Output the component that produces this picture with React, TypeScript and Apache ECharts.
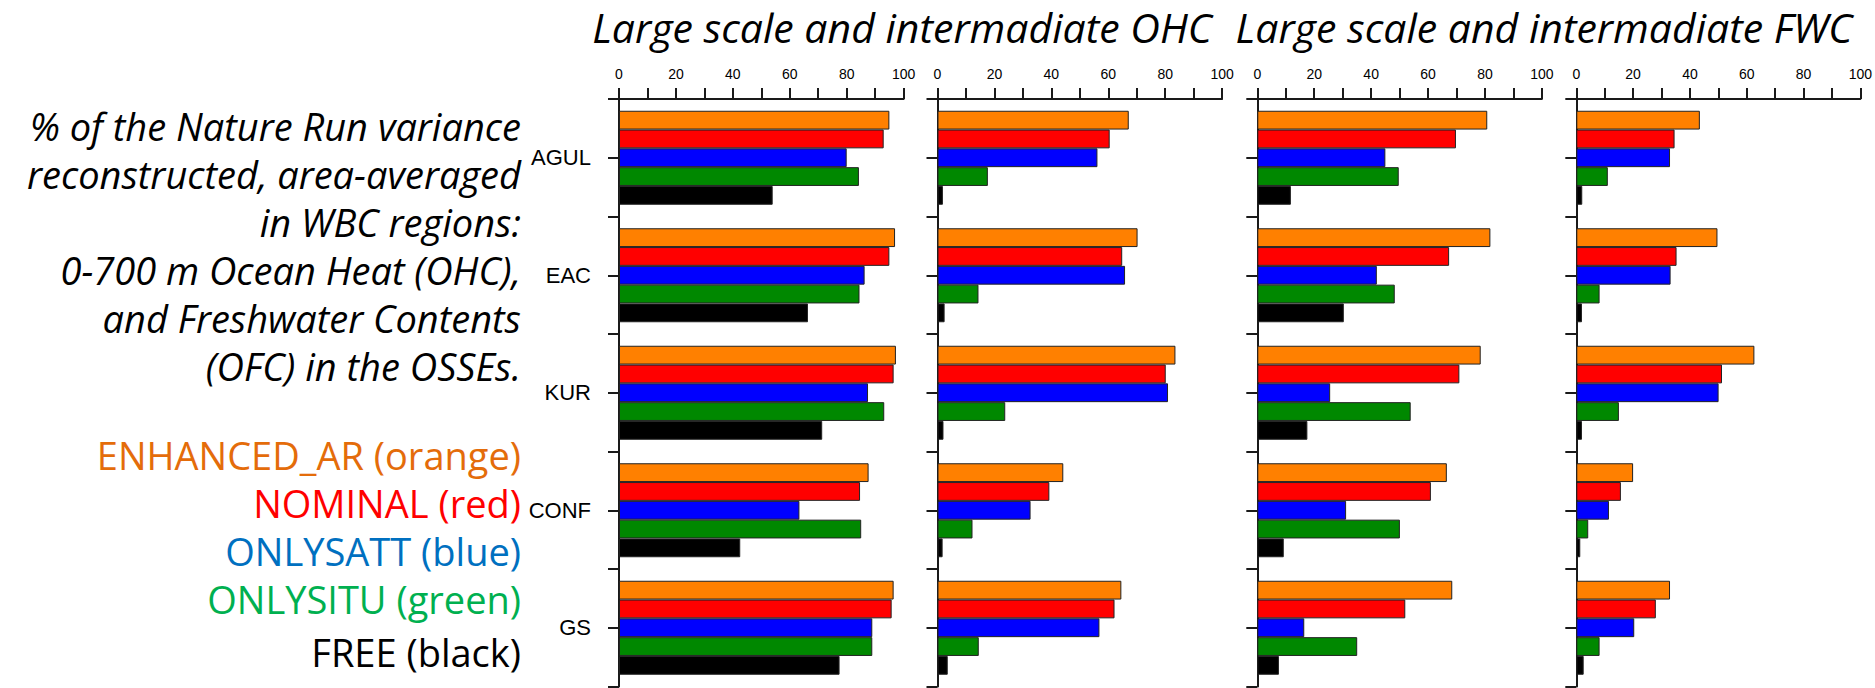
import React, { useEffect, useRef } from 'react';
import * as echarts from 'echarts';

// Categories (WBC regions), top to bottom
const regions = ['AGUL', 'EAC', 'KUR', 'CONF', 'GS'];
// Experiments, drawn top to bottom within each region
const runNames = ['ENHANCED_AR', 'NOMINAL', 'ONLYSATT', 'ONLYSITU', 'FREE'];
const runColors = ['#ff8000', '#ff0000', '#0000ff', '#008800', '#000000'];
const xTickValues = [0, 10, 20, 30, 40, 50, 60, 70, 80, 90, 100];

// Panel 1: large scale OHC
const ohcLargeEnhanced = [95, 97, 97.3, 87.7, 96.5];
const ohcLargeNominal = [93, 95, 96.5, 84.7, 95.8];
const ohcLargeOnlysatt = [80, 86.3, 87.5, 63.4, 89];
const ohcLargeOnlysitu = [84.3, 84.5, 93.2, 85.1, 89];
const ohcLargeFree = [54, 66.4, 71.4, 42.6, 77.5];

// Panel 2: intermediate OHC
const ohcInterEnhanced = [67.2, 70.3, 83.6, 44.2, 64.6];
const ohcInterNominal = [60.5, 64.9, 80.2, 39.3, 62.2];
const ohcInterOnlysatt = [56.2, 65.9, 81, 32.7, 56.9];
const ohcInterOnlysitu = [17.7, 14.4, 23.8, 12.3, 14.5];
const ohcInterFree = [1.9, 2.5, 2.1, 1.8, 3.6];

// Panel 3: large scale FWC
const fwcLargeEnhanced = [80.8, 81.9, 78.5, 66.6, 68.5];
const fwcLargeNominal = [69.8, 67.4, 71, 61, 52];
const fwcLargeOnlysatt = [45, 42, 25.6, 31.2, 16.5];
const fwcLargeOnlysitu = [49.7, 48.3, 53.9, 50.1, 35.1];
const fwcLargeFree = [11.8, 30.4, 17.6, 9.3, 7.6];

// Panel 4: intermediate FWC
const fwcInterEnhanced = [43.5, 49.7, 62.7, 20, 33];
const fwcInterNominal = [34.6, 35.3, 51.3, 15.7, 28];
const fwcInterOnlysatt = [33, 33.2, 50.1, 11.5, 20.4];
const fwcInterOnlysitu = [11.1, 8.2, 15, 4.2, 8.2];
const fwcInterFree = [2.1, 2, 2, 1.4, 2.6];

const titles = ['Large scale and intermadiate OHC', 'Large scale and intermadiate FWC'];
const noteLines = [
  '% of the Nature Run variance',
  'reconstructed, area-averaged',
  'in WBC regions:',
  '0-700 m Ocean Heat (OHC),',
  'and Freshwater Contents',
  '(OFC) in the OSSEs.',
];
const legendLines = [
  'ENHANCED_AR (orange)',
  'NOMINAL (red)',
  'ONLYSATT (blue)',
  'ONLYSITU (green)',
  'FREE (black)',
];
const legendColors = ['#e46c0a', '#ff0000', '#0070c0', '#00b050', '#000000'];

const panels = [
  [ohcLargeEnhanced, ohcLargeNominal, ohcLargeOnlysatt, ohcLargeOnlysitu, ohcLargeFree],
  [ohcInterEnhanced, ohcInterNominal, ohcInterOnlysatt, ohcInterOnlysitu, ohcInterFree],
  [fwcLargeEnhanced, fwcLargeNominal, fwcLargeOnlysatt, fwcLargeOnlysitu, fwcLargeFree],
  [fwcInterEnhanced, fwcInterNominal, fwcInterOnlysatt, fwcInterOnlysitu, fwcInterFree],
];

const W = 1875;
const H = 688;
const gridLefts = [619, 937.5, 1257.3, 1576.3];
const gridWidth = 284.6;
const gridTop = 99;
const gridHeight = 587.5;
const titleCenters = [902, 1544];

function buildOption(): any {
  const axisColor = '#1a1a1a';
  const grid: any[] = [];
  const xAxis: any[] = [];
  const yAxis: any[] = [];
  const series: any[] = [];

  panels.forEach((panel, g) => {
    grid.push({ left: gridLefts[g], top: gridTop, width: gridWidth, height: gridHeight, containLabel: false });
    xAxis.push({
      type: 'value',
      gridIndex: g,
      position: 'top',
      min: 0,
      max: 100,
      interval: 10,
      axisLine: { show: true, lineStyle: { color: axisColor, width: 2 } },
      axisTick: { show: true, length: 11, inside: false, lineStyle: { color: axisColor, width: 2 } },
      axisLabel: {
        show: true,
        margin: 18,
        color: '#000',
        fontFamily: 'Liberation Sans',
        fontSize: 14,
        formatter: (v: number) => (v % 20 === 0 && xTickValues.includes(v) ? String(v) : ''),
      },
      splitLine: { show: false },
    });
    // boundary ticks + labels
    yAxis.push({
      type: 'category',
      gridIndex: g,
      data: regions,
      inverse: true,
      position: 'left',
      axisLine: { show: true, onZero: false, lineStyle: { color: axisColor, width: 2 } },
      axisTick: { show: true, length: 11, alignWithLabel: false, lineStyle: { color: axisColor, width: 2 } },
      axisLabel: {
        show: g === 0,
        margin: 28,
        color: '#000',
        fontFamily: 'Liberation Sans',
        fontSize: 22,
      },
      splitLine: { show: false },
    });
    // centre ticks
    yAxis.push({
      type: 'category',
      gridIndex: g,
      data: regions,
      inverse: true,
      position: 'left',
      axisLine: { show: false, onZero: false },
      axisTick: { show: true, length: 11, alignWithLabel: true, lineStyle: { color: axisColor, width: 2 } },
      axisLabel: { show: false },
      splitLine: { show: false },
    });
    panel.forEach((vals, s) => {
      series.push({
        type: 'bar',
        name: runNames[s],
        xAxisIndex: g,
        yAxisIndex: 2 * g,
        data: vals,
        barGap: '0%',
        barCategoryGap: '20%',
        itemStyle: { color: runColors[s], borderColor: '#222', borderWidth: 1 },
        emphasis: { disabled: true },
        silent: true,
      });
    });
  });

  const graphic: any[] = [];
  titles.forEach((t, i) => {
    graphic.push({
      type: 'text',
      x: titleCenters[i],
      y: 27,
      style: {
        text: t,
        fill: '#000',
        font: 'italic 41px "Open Sans"',
        textAlign: 'center',
        textVerticalAlign: 'middle',
      },
    });
  });
  const noteYs = [126, 174, 222, 270, 318, 366];
  noteLines.forEach((t, i) => {
    graphic.push({
      type: 'text',
      x: 521,
      y: noteYs[i],
      style: {
        text: t,
        fill: '#000',
        font: 'italic 38px "Open Sans"',
        textAlign: 'right',
        textVerticalAlign: 'middle',
      },
    });
  });
  const legendYs = [455, 503, 551, 599, 652];
  legendLines.forEach((t, i) => {
    graphic.push({
      type: 'text',
      x: 521,
      y: legendYs[i],
      style: {
        text: t,
        fill: legendColors[i],
        font: '38px "Open Sans"',
        textAlign: 'right',
        textVerticalAlign: 'middle',
      },
    });
  });

  return {
    animation: false,
    backgroundColor: '#ffffff',
    tooltip: { show: false },
    legend: { show: false },
    grid,
    xAxis,
    yAxis,
    series,
    graphic,
  };
}

export default function App() {
  const ref = useRef<HTMLDivElement>(null);
  useEffect(() => {
    document.body.style.margin = '0';
    if (!ref.current) return;
    const chart = echarts.init(ref.current, null, { renderer: 'svg', width: W, height: H });
    chart.setOption(buildOption());
    return () => {
      chart.dispose();
    };
  }, []);
  return <div ref={ref} style={{ width: W, height: H, position: 'absolute', left: 0, top: 0 }} />;
}
